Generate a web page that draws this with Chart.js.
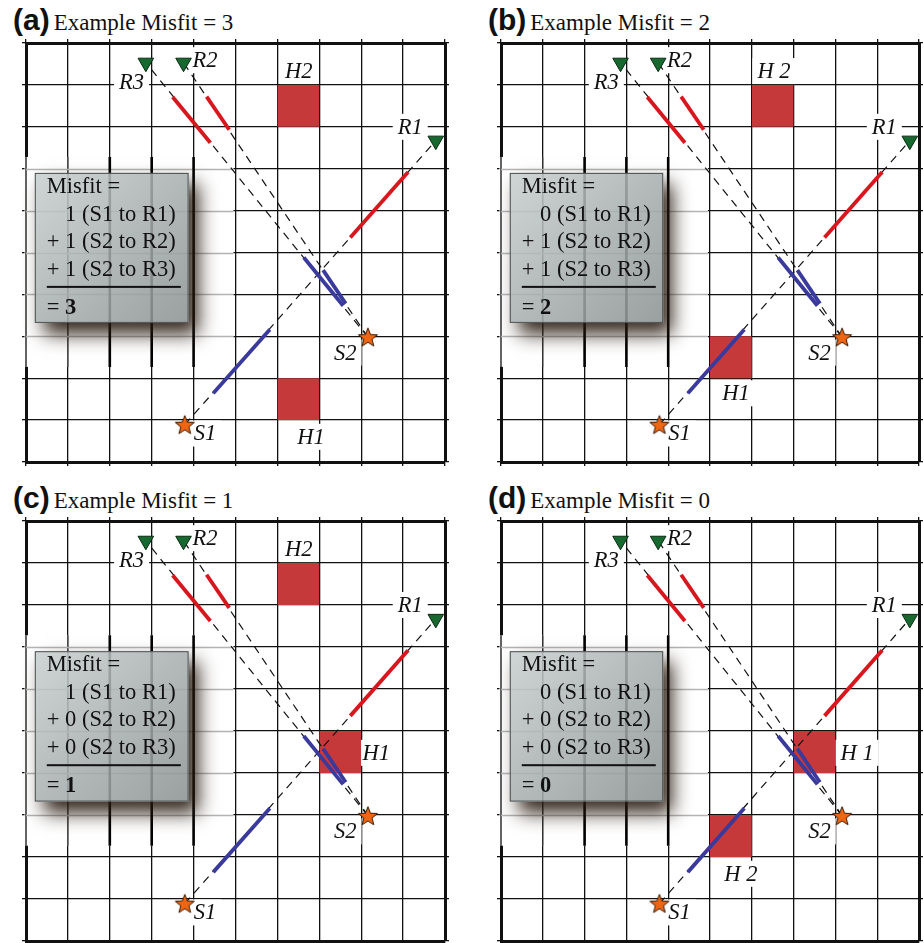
<!DOCTYPE html>
<html><head><meta charset="utf-8">
<script src="https://cdn.jsdelivr.net/npm/chart.js@4/dist/chart.umd.min.js"></script>
<style>
html,body{margin:0;padding:0;background:#fff;}
body{width:924px;height:943px;overflow:hidden;position:relative;}
.panel{position:absolute;}
.panel canvas{display:block;}
.title{position:absolute;white-space:nowrap;line-height:30px;color:#111;}
.title b{font-family:"Liberation Sans",Arial,sans-serif;font-weight:bold;font-size:30px;}
.title span{font-family:"Liberation Serif","Times New Roman",serif;font-size:23px;}
</style></head><body>
<script>
// ---------- data ----------
const panelLetters = ['(a)', '(b)', '(c)', '(d)'];
const exampleMisfit = [3, 2, 1, 0];
const misfitS1R1 = [1, 0, 1, 0];
const misfitS2R2 = [1, 1, 0, 0];
const misfitS2R3 = [1, 1, 0, 0];

const receiverNames = ['R1', 'R2', 'R3'];
const receiverX = [9.78, 3.76, 2.86];
const receiverY = [2.33, 0.47, 0.47];

const sourceNames = ['S1', 'S2'];
const sourceX = [3.79, 8.16];
const sourceY = [9.11, 7.02];

const rayPairs = [['S1', 'R1'], ['S2', 'R2'], ['S2', 'R3']];

// coloured sensitivity segments: [x0, y0, x1, y1] (grid units, y from top)
const redSegments = [[7.74, 4.64, 9.12, 3.08], [3.50, 1.29, 4.40, 2.38], [4.31, 1.28, 4.85, 2.07]];
const blueSegments = [[4.47, 8.36, 5.82, 6.84], [6.63, 5.12, 7.57, 6.27], [7.09, 5.42, 7.63, 6.22]];

// hole cells (top-left corner of the cell) per panel
const holeH1X = [6, 5, 7, 7];
const holeH1Y = [8, 7, 5, 5];
const holeH2X = [6, 6, 6, 5];
const holeH2Y = [1, 1, 1, 7];
const holeH1Text = ['H1', 'H1', 'H1', 'H 1'];
const holeH2Text = ['H2', 'H 2', 'H2', 'H 2'];

// ---------- label placement (grid units) ----------
const receiverLabelPos = [[9.17, 2.0], [4.27, 0.41], [2.52, 0.93]];
const sourceLabelPos = [[4.27, 9.32], [7.62, 7.39]];
const holeH1LabelPos = [[6.8, 9.4], [5.62, 8.36], [8.36, 5.52], [8.52, 5.52]];
const holeH2LabelPos = [[6.51, 0.67], [6.53, 0.67], [6.51, 0.67], [5.74, 8.4]];
const misfitBox = {x0: 0.21, y0: 3.1, x1: 3.88, y1: 6.68};
const backdrop = {x1: 4.95, y0: 2.72, y1: 7.73};

const panelLeft = [22, 497, 22, 497];
const panelTop = [39, 39, 517, 517];
const PANEL_W = [427, 426, 427, 426];
const PANEL_H = [427, 427, 428, 428];
const TICK = 4;

const SERIF = '"Liberation Serif","Times New Roman",serif';
const LABEL_FONT = 'italic 22.5px ' + SERIF;
const BOX_FONT = '22.5px ' + SERIF;
const BOX_FONT_BOLD = 'bold 22.5px ' + SERIF;

function makeStar() {
  const c = document.createElement('canvas');
  c.width = 24; c.height = 24;
  const g = c.getContext('2d');
  g.beginPath();
  for (let i = 0; i < 10; i++) {
    const r = i % 2 ? 4.3 : 10;
    const a = -Math.PI / 2 + i * Math.PI / 5;
    g.lineTo(12 + r * Math.cos(a), 12.8 + r * Math.sin(a));
  }
  g.closePath();
  g.fillStyle = '#ef6612';
  g.fill();
  g.lineWidth = 1;
  g.strokeStyle = '#3a1800';
  g.stroke();
  return c;
}
const starImg = makeStar();

const overlayPlugin = {
  id: 'overlay',
  beforeDatasetsDraw(chart, args, opts) {
    const {ctx, chartArea} = chart;
    const xs = chart.scales.x, ys = chart.scales.y;
    ctx.save();
    // backdrop region behind the misfit box (re-drawn grid, softened)
    const dx1 = xs.getPixelForValue(backdrop.x1);
    const dy0 = ys.getPixelForValue(backdrop.y0), dy1 = ys.getPixelForValue(backdrop.y1);
    ctx.fillStyle = '#fff';
    ctx.fillRect(chartArea.left - 1.5, dy0, dx1 - chartArea.left + 1.5, dy1 - dy0);
    ctx.strokeStyle = '#111';
    ctx.lineWidth = 1.3;
    ctx.beginPath();
    ctx.moveTo(chartArea.left, dy0); ctx.lineTo(chartArea.left, dy1);
    const g1 = xs.getPixelForValue(1);
    ctx.moveTo(g1, dy0); ctx.lineTo(g1, dy1);
    ctx.stroke();
    ctx.strokeStyle = '#b4b4b4';
    ctx.beginPath();
    for (let v = 3; v <= 7; v++) {
      const yy = Math.round(ys.getPixelForValue(v)) + 0.5;
      ctx.moveTo(chartArea.left, yy); ctx.lineTo(dx1, yy);
    }
    ctx.stroke();
    ctx.strokeStyle = '#000';
    ctx.lineWidth = 2.6;
    ctx.beginPath();
    for (let v = 2; v <= 4; v++) {
      const xx = xs.getPixelForValue(v);
      ctx.moveTo(xx, dy0); ctx.lineTo(xx, dy1);
    }
    ctx.stroke();
    // white label backgrounds
    ctx.font = LABEL_FONT;
    for (const l of opts.labels) {
      const w = ctx.measureText(l.text).width;
      const px = xs.getPixelForValue(l.x), py = ys.getPixelForValue(l.y);
      ctx.fillStyle = '#fff';
      ctx.fillRect(px - w / 2 - 5, py - 13, w + 10, 26);
    }
    // misfit box with shadow
    const bx0 = xs.getPixelForValue(misfitBox.x0), bx1 = xs.getPixelForValue(misfitBox.x1);
    const by0 = ys.getPixelForValue(misfitBox.y0), by1 = ys.getPixelForValue(misfitBox.y1);
    const bw = bx1 - bx0, bh = by1 - by0;
    ctx.save();
    ctx.beginPath();
    ctx.rect(0, 0, chart.width, chart.height);
    ctx.rect(bx0, by0, bw, bh);
    ctx.clip('evenodd');
    ctx.shadowColor = 'rgba(40,26,16,0.95)';
    ctx.shadowBlur = 18;
    ctx.shadowOffsetX = 9 + 5000;
    ctx.shadowOffsetY = 11;
    ctx.fillStyle = '#000';
    ctx.fillRect(bx0 - 5000, by0, bw, bh);
    ctx.restore();
    const grad = ctx.createLinearGradient(bx0, by0, bx1, by1);
    grad.addColorStop(0, 'rgba(200,207,207,0.86)');
    grad.addColorStop(0.5, 'rgba(168,175,175,0.86)');
    grad.addColorStop(1, 'rgba(140,147,147,0.88)');
    ctx.fillStyle = grad;
    ctx.fillRect(bx0, by0, bw, bh);
    ctx.strokeStyle = '#4a4f4f';
    ctx.lineWidth = 1;
    ctx.strokeRect(bx0 + 0.5, by0 + 0.5, bw - 1, bh - 1);
    // box text
    const p = opts.panel;
    ctx.fillStyle = '#111';
    ctx.font = BOX_FONT;
    ctx.textBaseline = 'alphabetic';
    const tx = bx0 + 12;
    const plusW = ctx.measureText('+ ').width;
    ctx.fillText('Misfit =', tx, by0 + 20);
    ctx.fillText(misfitS1R1[p] + ' (S1 to R1)', tx + plusW, by0 + 48);
    ctx.fillText('+ ' + misfitS2R2[p] + ' (S2 to R2)', tx, by0 + 75);
    ctx.fillText('+ ' + misfitS2R3[p] + ' (S2 to R3)', tx, by0 + 103);
    ctx.fillRect(tx, by0 + 113, 134, 2);
    ctx.fillText('= ', tx, by0 + 141);
    const eqW = ctx.measureText('= ').width;
    ctx.font = BOX_FONT_BOLD;
    ctx.fillText(String(exampleMisfit[p]), tx + eqW, by0 + 141);
    ctx.restore();
  },
  afterDatasetsDraw(chart, args, opts) {
    const {ctx} = chart;
    const xs = chart.scales.x, ys = chart.scales.y;
    ctx.save();
    ctx.font = LABEL_FONT;
    ctx.fillStyle = '#111';
    ctx.textAlign = 'center';
    ctx.textBaseline = 'middle';
    for (const l of opts.labels) {
      ctx.fillText(l.text, xs.getPixelForValue(l.x), ys.getPixelForValue(l.y) + 1);
    }
    ctx.restore();
  }
};

function pt(name) {
  let i = sourceNames.indexOf(name);
  if (i >= 0) return {x: sourceX[i], y: sourceY[i]};
  i = receiverNames.indexOf(name);
  return {x: receiverX[i], y: receiverY[i]};
}

function axis(pos, isX) {
  const main = pos === 'bottom' || pos === 'left';
  return {
    type: 'linear', min: 0, max: 10, position: pos, reverse: !isX,
    ticks: {display: false, stepSize: 1},
    grid: {display: true, drawOnChartArea: main, drawTicks: true, tickLength: TICK, color: '#111', lineWidth: 1.3},
    border: {display: true, color: '#111', width: 3},
    afterFit(scale) {
      if (isX) scale.height = TICK; else scale.width = TICK;
    }
  };
}

function buildPanel(p) {
  const title = document.createElement('div');
  title.className = 'title';
  title.style.left = (panelLeft[p] - 9) + 'px';
  title.style.top = (panelTop[p] - 34) + 'px';
  title.innerHTML = '<b>' + panelLetters[p] + '</b> <span>Example Misfit = ' + exampleMisfit[p] + '</span>';
  document.body.appendChild(title);

  const wrap = document.createElement('div');
  wrap.className = 'panel';
  wrap.style.left = panelLeft[p] + 'px';
  wrap.style.top = panelTop[p] + 'px';
  const cv = document.createElement('canvas');
  cv.width = PANEL_W[p];
  cv.height = PANEL_H[p];
  cv.style.width = PANEL_W[p] + 'px';
  cv.style.height = PANEL_H[p] + 'px';
  wrap.appendChild(cv);
  document.body.appendChild(wrap);

  const datasets = [];
  [[holeH1X[p], holeH1Y[p]], [holeH2X[p], holeH2Y[p]]].forEach(([hx, hy]) => {
    datasets.push({
      data: [{x: hx, y: hy}, {x: hx + 1, y: hy}],
      fill: {value: hy + 1}, backgroundColor: '#c6393b',
      borderColor: 'rgba(0,0,0,0)', borderWidth: 1, pointRadius: 0, showLine: true
    });
  });
  rayPairs.forEach(([s, r]) => {
    datasets.push({
      data: [pt(s), pt(r)], borderColor: '#111', borderWidth: 1.2, borderDash: [8, 6],
      pointRadius: 0, fill: false, showLine: true
    });
  });
  [[redSegments, '#d8161d'], [blueSegments, '#3a3a9c']].forEach(([segs, col]) => {
    segs.forEach(s => datasets.push({
      data: [{x: s[0], y: s[1]}, {x: s[2], y: s[3]}], borderColor: col, borderWidth: 3.8,
      borderCapStyle: 'butt', pointRadius: 0, fill: false, showLine: true
    }));
  });
  datasets.push({
    data: receiverX.map((x, i) => ({x, y: receiverY[i]})), showLine: false,
    pointStyle: 'triangle', rotation: 180, pointRadius: 9,
    pointBackgroundColor: '#17692f', pointBorderColor: '#0a2a12', pointBorderWidth: 1
  });
  datasets.push({
    data: sourceX.map((x, i) => ({x, y: sourceY[i]})), showLine: false,
    pointStyle: starImg, pointRadius: 10
  });
  datasets.forEach((d, i) => { d.order = datasets.length - i; d.tension = 0; });

  const labels = [];
  receiverNames.forEach((n, i) => labels.push({text: n, x: receiverLabelPos[i][0], y: receiverLabelPos[i][1]}));
  sourceNames.forEach((n, i) => labels.push({text: n, x: sourceLabelPos[i][0], y: sourceLabelPos[i][1]}));
  labels.push({text: holeH1Text[p], x: holeH1LabelPos[p][0], y: holeH1LabelPos[p][1]});
  labels.push({text: holeH2Text[p], x: holeH2LabelPos[p][0], y: holeH2LabelPos[p][1]});

  new Chart(cv, {
    type: 'line',
    data: {datasets},
    options: {
      responsive: false, maintainAspectRatio: false, animation: false, events: [],
      devicePixelRatio: 1,
      layout: {padding: 0, autoPadding: false},
      plugins: {legend: {display: false}, tooltip: {enabled: false}, title: {display: false},
        overlay: {labels, panel: p}},
      scales: {
        x: axis('bottom', true), x2: axis('top', true),
        y: axis('left', false), y2: axis('right', false)
      }
    },
    plugins: [overlayPlugin]
  });
}
function init() {
  for (let p = 0; p < 4; p++) buildPanel(p);
}
init();
</script>
</body></html>
